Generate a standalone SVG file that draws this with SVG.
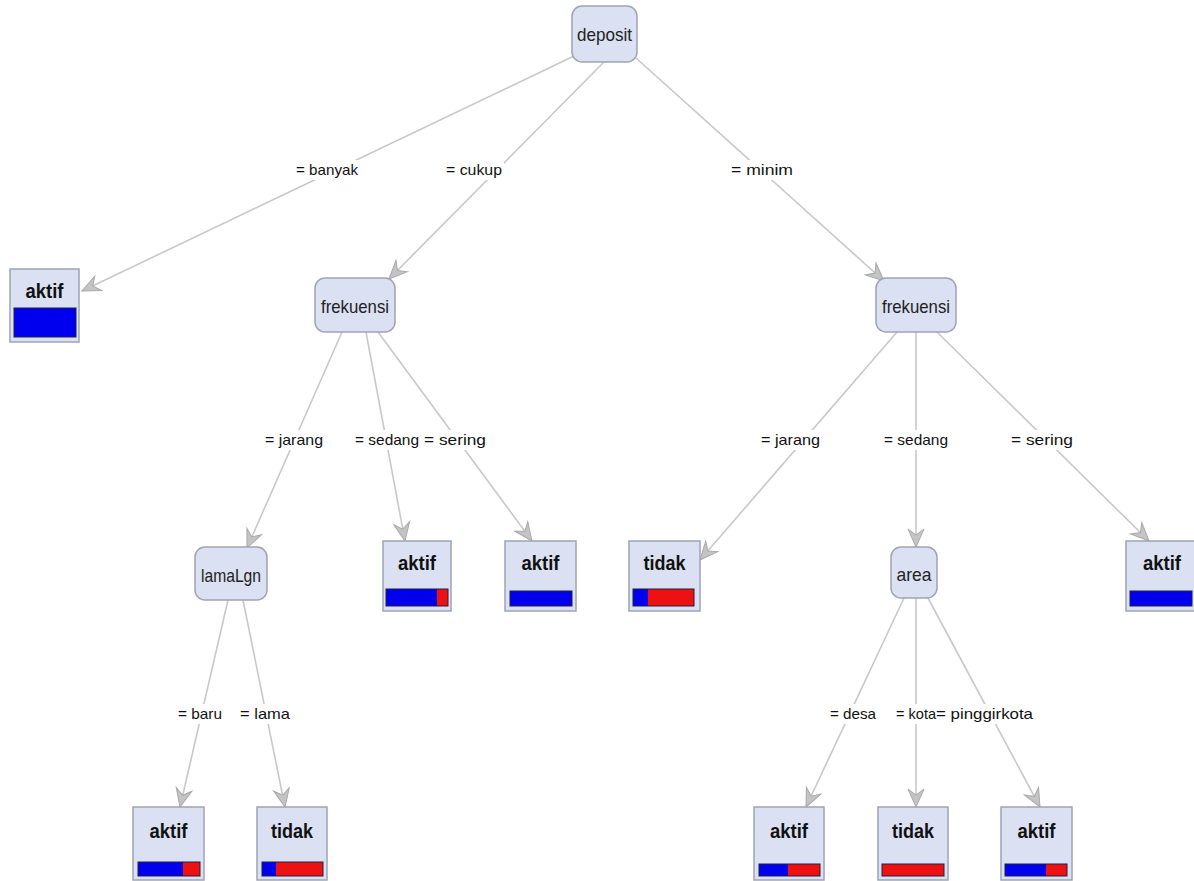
<svg xmlns="http://www.w3.org/2000/svg" width="1194" height="881" viewBox="0 0 1194 881">
<style>
.inner{fill:#dbe1f2;stroke:#9ea4b4;stroke-width:1.5}
.leaf{fill:#dbe1f2;stroke:#9ea4b4;stroke-width:1.5}
.nt{font-family:"Liberation Sans",Arial,sans-serif;font-size:19px;fill:#222;text-anchor:middle}
.lt{font-family:"Liberation Sans",Arial,sans-serif;font-size:20px;font-weight:bold;fill:#111;text-anchor:middle}
.el{font-family:"Liberation Sans",Arial,sans-serif;font-size:15px;fill:#111}
.edge{stroke:#c8c8c8;stroke-width:1.6;fill:none;marker-end:url(#arr)}
.bg{fill:#fff}
.bar{stroke:#202040;stroke-width:1}
.b{fill:#0000ee}
.r{fill:#ee1111}
</style>
<defs>
<marker id="arr" viewBox="-20 -10 22 20" refX="0" refY="0" markerWidth="22" markerHeight="20" markerUnits="userSpaceOnUse" orient="auto">
<path d="M0,0 L-18,-8 L-12,0 L-18,8 Z" fill="#c4c4c4" stroke="#a8a8a8" stroke-width="1"/>
</marker>
</defs>
<rect width="1194" height="881" fill="#fff"/>
<g id="connectors">
<line class="edge" x1="574" y1="56" x2="82" y2="291"/>
<line class="edge" x1="604" y1="62" x2="389" y2="279"/>
<line class="edge" x1="636" y1="58" x2="884" y2="281"/>
<line class="edge" x1="342" y1="332" x2="247" y2="548"/>
<line class="edge" x1="366" y1="332" x2="405" y2="541"/>
<line class="edge" x1="378" y1="332" x2="532" y2="541"/>
<line class="edge" x1="897" y1="332" x2="700" y2="560"/>
<line class="edge" x1="916" y1="332" x2="916" y2="547"/>
<line class="edge" x1="937" y1="332" x2="1149" y2="541"/>
<line class="edge" x1="228" y1="600" x2="180" y2="807"/>
<line class="edge" x1="243" y1="600" x2="285" y2="807"/>
<line class="edge" x1="904" y1="598" x2="806" y2="807"/>
<line class="edge" x1="916" y1="598" x2="916" y2="807"/>
<line class="edge" x1="928" y1="598" x2="1040" y2="807"/>
</g>
<g id="labels">
<rect class="bg" x="294" y="160" width="66" height="20"/><text class="el" x="296" y="175" textLength="62" lengthAdjust="spacingAndGlyphs">= banyak</text>
<rect class="bg" x="444" y="160" width="60" height="20"/><text class="el" x="446" y="175" textLength="56" lengthAdjust="spacingAndGlyphs">= cukup</text>
<rect class="bg" x="729" y="160" width="66" height="20"/><text class="el" x="731" y="175" textLength="62" lengthAdjust="spacingAndGlyphs">= minim</text>
<rect class="bg" x="263" y="430" width="62" height="20"/><text class="el" x="265" y="445" textLength="58" lengthAdjust="spacingAndGlyphs">= jarang</text>
<rect class="bg" x="353" y="430" width="135" height="20"/><text class="el" x="355" y="445" textLength="64" lengthAdjust="spacingAndGlyphs">= sedang</text>
<text class="el" x="424" y="445" textLength="62" lengthAdjust="spacingAndGlyphs">= sering</text>
<rect class="bg" x="759" y="430" width="63" height="20"/><text class="el" x="761" y="445" textLength="59" lengthAdjust="spacingAndGlyphs">= jarang</text>
<rect class="bg" x="882" y="430" width="68" height="20"/><text class="el" x="884" y="445" textLength="64" lengthAdjust="spacingAndGlyphs">= sedang</text>
<rect class="bg" x="1009" y="430" width="66" height="20"/><text class="el" x="1011" y="445" textLength="62" lengthAdjust="spacingAndGlyphs">= sering</text>
<rect class="bg" x="176" y="704" width="48" height="20"/><text class="el" x="178" y="719" textLength="44" lengthAdjust="spacingAndGlyphs">= baru</text>
<rect class="bg" x="238" y="704" width="54" height="20"/><text class="el" x="240" y="719" textLength="50" lengthAdjust="spacingAndGlyphs">= lama</text>
<rect class="bg" x="828" y="704" width="50" height="20"/><text class="el" x="830" y="719" textLength="46" lengthAdjust="spacingAndGlyphs">= desa</text>
<rect class="bg" x="894" y="704" width="141" height="20"/><text class="el" x="896" y="719" textLength="40" lengthAdjust="spacingAndGlyphs">= kota</text>
<text class="el" x="936" y="719" textLength="97" lengthAdjust="spacingAndGlyphs">= pinggirkota</text>
</g>
<g id="n_deposit"><rect class="inner" x="572" y="6" width="65" height="56" rx="10"/><text class="nt" x="604.5" y="41" textLength="55" lengthAdjust="spacingAndGlyphs">deposit</text></g>
<g id="n_frek1"><rect class="inner" x="315" y="278" width="80" height="54" rx="10"/><text class="nt" x="355" y="313" textLength="68" lengthAdjust="spacingAndGlyphs">frekuensi</text></g>
<g id="n_frek2"><rect class="inner" x="876" y="278" width="80" height="54" rx="10"/><text class="nt" x="916" y="313" textLength="68" lengthAdjust="spacingAndGlyphs">frekuensi</text></g>
<g id="n_lamaLgn"><rect class="inner" x="195" y="547" width="72" height="53" rx="10"/><text class="nt" x="231" y="582" textLength="60" lengthAdjust="spacingAndGlyphs">lamaLgn</text></g>
<g id="n_area"><rect class="inner" x="891" y="547" width="46" height="51" rx="10"/><text class="nt" x="914" y="581" textLength="35" lengthAdjust="spacingAndGlyphs">area</text></g>
<g id="leaf_banyak"><rect class="leaf" x="10" y="269" width="69" height="73"/><text class="lt" x="44.5" y="298" textLength="38" lengthAdjust="spacingAndGlyphs">aktif</text><rect class="bar b" x="14" y="308" width="62" height="29"/></g>
<g id="leaf_sedang"><rect class="leaf" x="383" y="541" width="68" height="70"/><text class="lt" x="417" y="570" textLength="38" lengthAdjust="spacingAndGlyphs">aktif</text><rect class="b" x="386" y="589" width="51" height="17"/><rect class="r" x="437" y="589" width="11" height="17"/><rect class="bar" fill="none" x="386" y="589" width="62" height="17"/></g>
<g id="leaf_sering1"><rect class="leaf" x="505" y="541" width="71" height="70"/><text class="lt" x="540.5" y="570" textLength="38" lengthAdjust="spacingAndGlyphs">aktif</text><rect class="bar b" x="510" y="591" width="62" height="15"/></g>
<g id="leaf_jarang2"><rect class="leaf" x="629" y="541" width="71" height="70"/><text class="lt" x="664.5" y="570" textLength="42" lengthAdjust="spacingAndGlyphs">tidak</text><rect class="b" x="633" y="589" width="15" height="17"/><rect class="r" x="648" y="589" width="46" height="17"/><rect class="bar" fill="none" x="633" y="589" width="61" height="17"/></g>
<g id="leaf_sering2"><rect class="leaf" x="1126" y="541" width="70" height="70"/><text class="lt" x="1162" y="570" textLength="38" lengthAdjust="spacingAndGlyphs">aktif</text><rect class="bar b" x="1130" y="591" width="62" height="15"/></g>
<g id="leaf_baru"><rect class="leaf" x="133" y="807" width="71" height="73"/><text class="lt" x="168.5" y="838" textLength="38" lengthAdjust="spacingAndGlyphs">aktif</text><rect class="b" x="138" y="862" width="45" height="14"/><rect class="r" x="183" y="862" width="17" height="14"/><rect class="bar" fill="none" x="138" y="862" width="62" height="14"/></g>
<g id="leaf_lama"><rect class="leaf" x="257" y="807" width="70" height="73"/><text class="lt" x="292" y="838" textLength="42" lengthAdjust="spacingAndGlyphs">tidak</text><rect class="b" x="262" y="862" width="14" height="14"/><rect class="r" x="276" y="862" width="47" height="14"/><rect class="bar" fill="none" x="262" y="862" width="61" height="14"/></g>
<g id="leaf_desa"><rect class="leaf" x="754" y="807" width="70" height="73"/><text class="lt" x="789" y="838" textLength="38" lengthAdjust="spacingAndGlyphs">aktif</text><rect class="b" x="759" y="864" width="29" height="12"/><rect class="r" x="788" y="864" width="32" height="12"/><rect class="bar" fill="none" x="759" y="864" width="61" height="12"/></g>
<g id="leaf_kota"><rect class="leaf" x="878" y="807" width="70" height="73"/><text class="lt" x="913" y="838" textLength="42" lengthAdjust="spacingAndGlyphs">tidak</text><rect class="bar r" x="882" y="864" width="62" height="12"/></g>
<g id="leaf_pinggir"><rect class="leaf" x="1001" y="807" width="71" height="73"/><text class="lt" x="1036.5" y="838" textLength="38" lengthAdjust="spacingAndGlyphs">aktif</text><rect class="b" x="1005" y="864" width="41" height="12"/><rect class="r" x="1046" y="864" width="21" height="12"/><rect class="bar" fill="none" x="1005" y="864" width="62" height="12"/></g>
</svg>
